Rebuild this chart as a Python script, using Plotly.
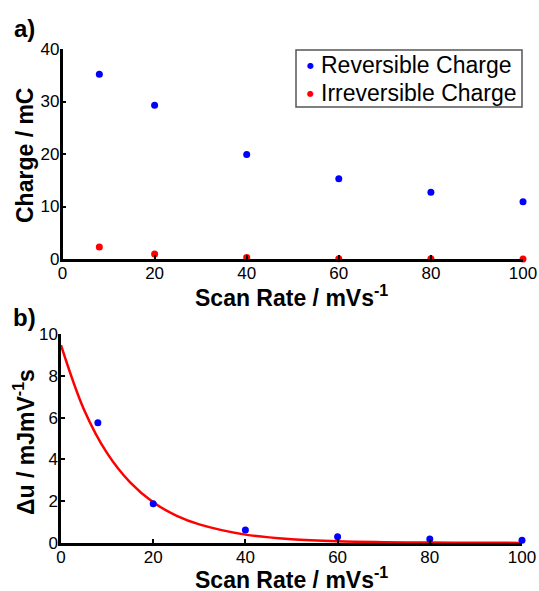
import plotly.graph_objects as go

scan_rate = [8, 20, 40, 60, 80, 100]
reversible = [35.2, 29.3, 19.9, 15.3, 12.7, 10.9]
irreversible = [2.3, 0.95, 0.3, 0.05, 0.03, 0.02]
delta_u = [5.75, 1.88, 0.62, 0.30, 0.19, 0.13]
fit_x = [0, 5, 10, 15, 20, 25, 30, 40, 50, 60, 70, 80, 90, 100]
fit_y = [9.47, 6.38, 4.30, 2.90, 1.95, 1.31, 0.89, 0.40, 0.18, 0.08, 0.04, 0.02, 0.01, 0.005]
x_ticks = [0, 20, 40, 60, 80, 100]
ya_ticks = [0, 10, 20, 30, 40]
yb_ticks = [0, 2, 4, 6, 8, 10]
legend_names = ["Reversible Charge", "Irreversible Charge"]
legend_colors = ["#0000ff", "#ff0000"]

W, H = 539, 591
def px(x): return x / W
def py(y): return 1 - y / H

fig = go.Figure()
fig.add_trace(go.Scatter(x=scan_rate, y=reversible, mode="markers", name=legend_names[0],
                         marker=dict(color=legend_colors[0], size=7), cliponaxis=False,
                         xaxis="x", yaxis="y"))
fig.add_trace(go.Scatter(x=scan_rate, y=irreversible, mode="markers", name=legend_names[1],
                         marker=dict(color=legend_colors[1], size=7), cliponaxis=False,
                         xaxis="x", yaxis="y"))
fig.add_trace(go.Scatter(x=fit_x, y=fit_y, mode="lines",
                         line=dict(color="#ff0000", width=2.5, shape="spline"),
                         cliponaxis=False, xaxis="x2", yaxis="y2"))
fig.add_trace(go.Scatter(x=scan_rate, y=delta_u, mode="markers",
                         marker=dict(color="#0000ff", size=7), cliponaxis=False,
                         xaxis="x2", yaxis="y2"))

tickfont = dict(family="Liberation Sans, Arial", size=17, color="black")
axis_common = dict(showline=True, linecolor="black", linewidth=2.5, ticks="inside", ticklen=4,
                   tickwidth=2, tickcolor="black", showgrid=False, zeroline=False,
                   tickfont=tickfont, mirror=False, automargin=False, ticklabelstandoff=-3)

fig.update_layout(
    template="none",
    width=W, height=H, margin=dict(l=0, r=0, t=0, b=0, pad=0, autoexpand=False),
    paper_bgcolor="white", plot_bgcolor="white",
    xaxis=dict(domain=[px(62.5), px(523)], range=[0, 100], tickvals=x_ticks, anchor="y", **axis_common),
    yaxis=dict(domain=[py(259), py(49)], range=[0, 40], tickvals=ya_ticks, anchor="x", **axis_common),
    xaxis2=dict(domain=[px(61), px(522)], range=[0, 100], tickvals=x_ticks, anchor="y2", **axis_common),
    yaxis2=dict(domain=[py(543), py(334)], range=[0, 10], tickvals=yb_ticks, anchor="x2", **axis_common),
    showlegend=False,
)

# legend box (drawn manually to match the compact MATLAB-style legend)
fig.add_shape(type="rect", xref="paper", yref="paper",
              x0=px(296), x1=px(522), y0=py(107), y1=py(50),
              line=dict(color="#555555", width=1.5), fillcolor="white", layer="above")

title_font = dict(family="Liberation Sans, Arial", size=23, color="black")
leg_font = dict(family="Liberation Sans, Arial", size=23, color="black")
ann = [
    dict(text="<b>a)</b>", x=px(12), y=py(29), xanchor="left", yanchor="middle",
         font=dict(family="Liberation Sans, Arial", size=24, color="black")),
    dict(text="<b>b)</b>", x=px(11), y=py(317), xanchor="left", yanchor="middle",
         font=dict(family="Liberation Sans, Arial", size=24, color="black")),
    dict(text="<b>Scan Rate / mVs<sup>-1</sup></b>", x=px(291), y=py(296), xanchor="center", yanchor="middle",
         font=title_font),
    dict(text="<b>Scan Rate / mVs<sup>-1</sup></b>", x=px(291), y=py(578), xanchor="center", yanchor="middle",
         font=title_font),
    dict(text="<b>Charge / mC</b>", x=px(25), y=py(156), xanchor="center", yanchor="middle",
         textangle=-90, font=title_font),
    dict(text="<b>Δu / mJmV<sup>-1</sup>s</b>", x=px(24), y=py(442), xanchor="center", yanchor="middle",
         textangle=-90, font=title_font),
]
for i, (name, col) in enumerate(zip(legend_names, legend_colors)):
    yc = 65 + 28 * i
    ann.append(dict(text="●", x=px(310), y=py(yc), xanchor="center", yanchor="middle",
                    font=dict(family="DejaVu Sans", size=8, color=col)))
    ann.append(dict(text=name, x=px(319), y=py(yc), xanchor="left", yanchor="middle", font=leg_font))
for a in ann:
    a.update(xref="paper", yref="paper", showarrow=False)
fig.update_layout(annotations=ann)

fig.write_html("out.html")
